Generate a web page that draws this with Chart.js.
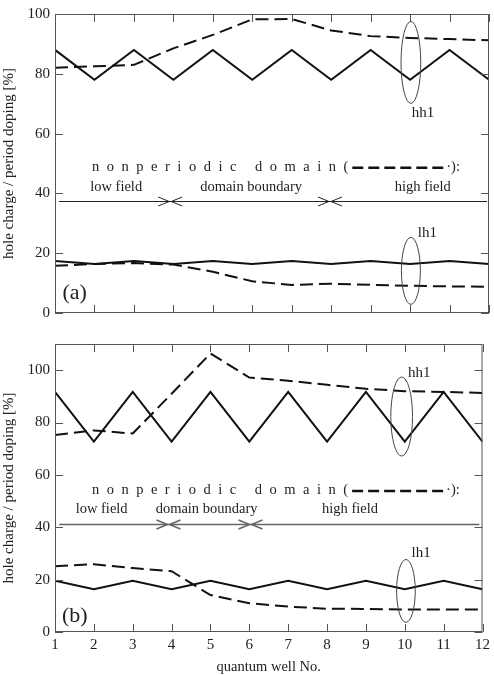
<!DOCTYPE html>
<html>
<head>
<meta charset="utf-8">
<script src="https://cdn.jsdelivr.net/npm/chart.js@4.4.0/dist/chart.umd.min.js"></script>
<style>
    body { margin: 0; background: #fff; }
    #wrap { position: relative; width: 494px; height: 676px; }
    canvas { position: absolute; left: 0; }
</style>
</head>
<body>
<div id="wrap">
    <canvas id="chart-a" width="494" height="330" style="top:0"></canvas>
    <canvas id="chart-b" width="494" height="346" style="top:330px"></canvas>
</div>
<script>
const wells = [1, 2, 3, 4, 5, 6, 7, 8, 9, 10, 11, 12];
const yTicks = [0, 20, 40, 60, 80, 100];

// panel (a)
const hh1SolidA = [88, 78, 88, 78, 88, 78, 88, 78, 88, 78, 88, 78];
const hh1DashA  = [82, 82.5, 83, 88.5, 93, 98.2, 98.3, 94.5, 92.6, 92, 91.6, 91.2];
const lh1SolidA = [17.4, 16.4, 17.4, 16.4, 17.4, 16.4, 17.4, 16.4, 17.4, 16.4, 17.4, 16.4];
const lh1DashA  = [15.8, 16.4, 16.7, 16.2, 13.8, 10.6, 9.4, 9.8, 9.4, 9.1, 8.9, 8.8];

// panel (b)
const hh1SolidB = [91.7, 72.7, 91.7, 72.7, 91.7, 72.7, 91.7, 72.7, 91.7, 72.7, 91.7, 72.7];
const hh1DashB  = [75.2, 77, 75.8, 91, 106.4, 97.2, 96, 94.4, 92.9, 92, 91.7, 91.3];
const lh1SolidB = [19.6, 16.3, 19.6, 16.3, 19.6, 16.3, 19.6, 16.3, 19.6, 16.3, 19.6, 16.3];
const lh1DashB  = [25.1, 25.9, 24.4, 23.2, 14.1, 11, 9.7, 8.9, 8.8, 8.6, 8.6, 8.6];

const serif = "'Liberation Serif', 'DejaVu Serif', serif";
const ink = '#222';

// frame, inward ticks and the hand-drawn notes of the figure
const figureNotes = {
    id: 'figureNotes',
    afterDatasetsDraw(chart, args, o) {
        const { ctx, chartArea: a, scales: { x, y } } = chart;
        const px = v => x.getPixelForValue(v);
        const py = v => y.getPixelForValue(v);
        const line = (x1, y1, x2, y2) => { ctx.beginPath(); ctx.moveTo(x1, y1); ctx.lineTo(x2, y2); ctx.stroke(); };
        ctx.save();

        ctx.strokeStyle = '#555';
        ctx.lineWidth = 1;
        ctx.strokeRect(a.left + 0.5, a.top + 0.5, a.width - 1, a.height - 1);
        wells.forEach(w => {
            const p = Math.round(px(w)) + 0.5;
            line(p, a.bottom, p, a.bottom - 8);
            line(p, a.top, p, a.top + 8);
        });
        yTicks.forEach(t => {
            const p = Math.round(py(t)) + 0.5;
            line(a.left, p, a.left + 8, p);
            line(a.right, p, a.right - 8, p);
        });

        // ellipses round the curve pairs
        ctx.strokeStyle = '#444';
        o.ellipses.forEach(e => {
            ctx.beginPath();
            ctx.ellipse(px(e.x), py(e.y), px(e.x + e.rx) - px(e.x), py(e.y) - py(e.y + e.ry), 0, 0, Math.PI * 2);
            ctx.stroke();
        });

        // labels
        ctx.fillStyle = ink;
        ctx.textAlign = 'center';
        ctx.textBaseline = 'middle';
        o.labels.forEach(l => {
            ctx.font = `${l.size || 14.5}px ${serif}`;
            ctx.fillText(l.text, px(l.x), py(l.y));
        });

        // arrow row
        const r = o.arrowRow;
        const ay = Math.round(py(r.y)) + 0.5;
        ctx.strokeStyle = r.color;
        ctx.lineWidth = r.width;
        line(px(r.from), ay, px(r.to), ay);
        r.marks.forEach(m => {
            const b = px(m);
            ctx.beginPath();
            ctx.moveTo(b - 12, ay - 4.5); ctx.lineTo(b - 1, ay); ctx.lineTo(b - 12, ay + 4.5);
            ctx.moveTo(b + 12, ay - 4.5); ctx.lineTo(b + 1, ay); ctx.lineTo(b + 12, ay + 4.5);
            ctx.stroke();
        });

        // spaced "nonperiodic domain(" line with dash sample
        const d = o.domainRow;
        const dy = py(d.y);
        ctx.font = `14.5px ${serif}`;
        ctx.textAlign = 'left';
        let cx = px(d.x);
        for (const ch of 'nonperiodic domain(') {
            ctx.fillText(ch, cx, dy);
            cx += ctx.measureText(ch).width + d.gap;
        }
        cx -= d.gap - 4;
        ctx.strokeStyle = '#111';
        ctx.lineWidth = 2.5;
        ctx.setLineDash([11, 5]);
        line(cx, dy + 1, cx + d.sample, dy + 1);
        ctx.setLineDash([]);
        ctx.fillText('·):', cx + d.sample + 1, dy);

        ctx.restore();
    }
};

function series(values, dashed) {
    return {
        data: wells.map((w, i) => ({ x: w, y: values[i] })),
        borderColor: '#111',
        borderWidth: 2,
        borderDash: dashed ? [13, 6] : [],
        pointRadius: 0,
        tension: 0,
        fill: false
    };
}

function buildChart(id, p) {
    return new Chart(document.getElementById(id), {
        type: 'line',
        data: {
            datasets: [
                series(p.hh1Solid, false),
                series(p.hh1Dash, true),
                series(p.lh1Solid, false),
                series(p.lh1Dash, true)
            ]
        },
        options: {
            responsive: false,
            animation: false,
            events: [],
            layout: { padding: p.padding },
            plugins: {
                legend: { display: false },
                tooltip: { enabled: false },
                figureNotes: p.notes
            },
            scales: {
                x: {
                    type: 'linear', min: 1, max: 12,
                    grid: { display: false, drawTicks: false },
                    border: { display: false },
                    ticks: { display: p.showX, stepSize: 1, padding: 4, color: ink, font: { family: serif, size: 15 } },
                    title: { display: p.showX, text: 'quantum well No.', color: ink, padding: 0, font: { family: serif, size: 14.5 } },
                    afterFit: s => { s.height = p.xHeight; }
                },
                y: {
                    min: 0, max: p.yMax,
                    grid: { display: false, drawTicks: false },
                    border: { display: false },
                    ticks: { stepSize: 20, includeBounds: false, padding: 5, color: ink, font: { family: serif, size: 15 } },
                    title: { display: true, text: 'hole charge / period doping [%]', color: ink, padding: 0, font: { family: serif, size: 15 } },
                    afterFit: s => { s.width = 55; }
                }
            }
        },
        plugins: [figureNotes]
    });
}

buildChart('chart-a', {
    hh1Solid: hh1SolidA, hh1Dash: hh1DashA, lh1Solid: lh1SolidA, lh1Dash: lh1DashA,
    yMax: 100, showX: false, xHeight: 17,
    padding: { top: 9, right: 5, left: 0, bottom: 0 },
    notes: {
        ellipses: [{ x: 10.02, y: 83.8, rx: 0.25, ry: 13.7 }, { x: 10.02, y: 14.1, rx: 0.24, ry: 11.2 }],
        labels: [
            { text: 'hh1', x: 10.33, y: 67, size: 15 },
            { text: 'lh1', x: 10.44, y: 26.7, size: 15 },
            { text: 'low field', x: 2.55, y: 42 },
            { text: 'domain boundary', x: 5.97, y: 42 },
            { text: 'high field', x: 10.32, y: 42 },
            { text: '(a)', x: 1.5, y: 6.6, size: 22 }
        ],
        arrowRow: { y: 37.5, from: 1.1, to: 11.95, marks: [3.92, 7.97], color: '#222', width: 1 },
        domainRow: { x: 1.94, y: 48.9, gap: 7.5, sample: 93 }
    }
});

buildChart('chart-b', {
    hh1Solid: hh1SolidB, hh1Dash: hh1DashB, lh1Solid: lh1SolidB, lh1Dash: lh1DashB,
    yMax: 110, showX: true, xHeight: 44,
    padding: { top: 2, right: 11, left: 0, bottom: 0 },
    notes: {
        ellipses: [{ x: 9.92, y: 82.3, rx: 0.28, ry: 15.1 }, { x: 10.03, y: 15.7, rx: 0.24, ry: 12 }],
        labels: [
            { text: 'hh1', x: 10.37, y: 99, size: 15 },
            { text: 'lh1', x: 10.42, y: 30, size: 15 },
            { text: 'low field', x: 2.2, y: 47 },
            { text: 'domain boundary', x: 4.9, y: 47 },
            { text: 'high field', x: 8.59, y: 47 },
            { text: '(b)', x: 1.51, y: 6.1, size: 22 }
        ],
        arrowRow: { y: 41.3, from: 1.11, to: 11.92, marks: [3.92, 6.03], color: '#666', width: 1.5 },
        domainRow: { x: 1.95, y: 54.2, gap: 7.5, sample: 93 }
    }
});
</script>
</body>
</html>
